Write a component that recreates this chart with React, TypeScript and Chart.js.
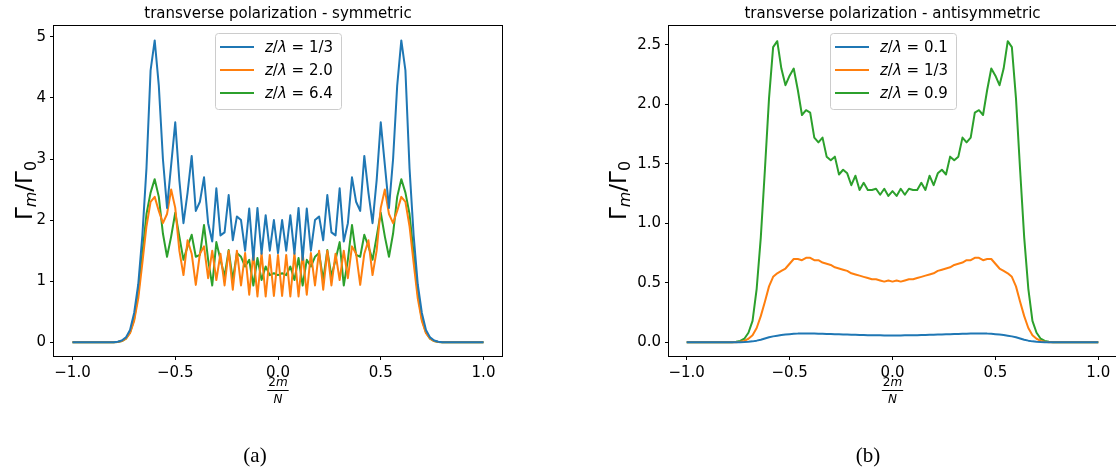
import React, { useEffect, useRef } from 'react';
import { Chart, registerables } from 'chart.js';

Chart.register(...registerables);

// ---------- data ----------
const N = 100;
// abscissa 2m/N for m = -N/2 .. N/2
const xValues: number[] = Array.from({ length: N + 1 }, (_, k) => (2 * (k - N / 2)) / N);

const xTickValues = [-1, -0.5, 0, 0.5, 1];
const xTickLabels = ['\u22121.0', '\u22120.5', '0.0', '0.5', '1.0'];

const symYTickValues = [0, 1, 2, 3, 4, 5];
const symYTickLabels = ['0', '1', '2', '3', '4', '5'];
const antiYTickValues = [0, 0.5, 1, 1.5, 2, 2.5];
const antiYTickLabels = ['0.0', '0.5', '1.0', '1.5', '2.0', '2.5'];

const symTitle = 'transverse polarization - symmetric';
const antiTitle = 'transverse polarization - antisymmetric';

const symLegend = ['1/3', '2.0', '6.4'];
const antiLegend = ['0.1', '1/3', '0.9'];

// symmetric, z/λ = 1/3
const symBlue = [
  0, 0, 0, 0, 0, 0, 0, 0, 0, 0, 0,
  0.01, 0.03, 0.08, 0.2, 0.48, 0.95, 1.75, 2.85, 4.45, 4.94,
  4.2, 3.0, 2.2, 2.9, 3.6, 2.65, 1.95, 2.45, 3.05, 2.15,
  2.3, 2.7, 1.95, 1.65, 2.52, 1.75, 1.8, 2.41, 1.67, 2.06,
  2.0, 1.5, 2.19, 1.35, 2.2, 1.45, 2.08, 1.5, 2.0, 1.46,
  2.0, 1.5, 2.08, 1.45, 2.2, 1.35, 2.19, 1.5, 2.0, 2.06,
  1.67, 2.41, 1.8, 1.75, 2.52, 1.65, 1.95, 2.7, 2.3, 2.15,
  3.05, 2.45, 1.95, 2.65, 3.6, 2.9, 2.2, 3.0, 4.2, 4.94,
  4.45, 2.85, 1.75, 0.95, 0.48, 0.2, 0.08, 0.03, 0.01, 0,
  0, 0, 0, 0, 0, 0, 0, 0, 0, 0,
];
// symmetric, z/λ = 2.0
const symOrange = [
  0, 0, 0, 0, 0, 0, 0, 0, 0, 0, 0,
  0.005, 0.02, 0.06, 0.15, 0.35, 0.72, 1.3, 1.9, 2.3, 2.38,
  2.15, 1.95, 2.1, 2.5, 2.2, 1.5, 1.1, 1.67, 1.45, 0.94,
  1.45, 1.57, 1.05, 1.5, 1.02, 1.45, 0.93, 1.5, 0.86, 1.5,
  0.93, 1.46, 0.78, 1.46, 0.75, 1.46, 0.75, 1.43, 0.76, 1.43,
  0.76, 1.43, 0.75, 1.46, 0.75, 1.46, 0.78, 1.46, 0.93, 1.5,
  0.86, 1.5, 0.93, 1.45, 1.02, 1.5, 1.05, 1.57, 1.45, 0.94,
  1.45, 1.67, 1.1, 1.5, 2.2, 2.5, 2.1, 1.95, 2.15, 2.38,
  2.3, 1.9, 1.3, 0.72, 0.35, 0.15, 0.06, 0.02, 0.005, 0,
  0, 0, 0, 0, 0, 0, 0, 0, 0, 0,
];
// symmetric, z/λ = 6.4
const symGreen = [
  0, 0, 0, 0, 0, 0, 0, 0, 0, 0, 0,
  0.005, 0.02, 0.06, 0.16, 0.38, 0.8, 1.45, 2.1, 2.45, 2.67,
  2.38, 1.78, 1.4, 1.73, 2.12, 1.73, 1.35, 1.57, 1.76, 1.4,
  1.43, 1.92, 1.35, 0.93, 1.64, 1.35, 1.08, 1.51, 1.02, 1.46,
  1.4, 1.24, 1.35, 0.93, 1.38, 1.02, 1.24, 1.1, 1.13, 1.1,
  1.13, 1.1, 1.24, 1.02, 1.38, 0.93, 1.35, 1.24, 1.4, 1.46,
  1.02, 1.51, 1.08, 1.35, 1.64, 0.93, 1.35, 1.92, 1.43, 1.4,
  1.76, 1.57, 1.35, 1.73, 2.12, 1.73, 1.4, 1.78, 2.38, 2.67,
  2.45, 2.1, 1.45, 0.8, 0.38, 0.16, 0.06, 0.02, 0.005, 0,
  0, 0, 0, 0, 0, 0, 0, 0, 0, 0,
];

// antisymmetric, z/λ = 0.1
const antiBlue = [
  0, 0, 0, 0, 0, 0, 0, 0, 0, 0, 0, 0, 0,
  0.001, 0.002, 0.004, 0.008, 0.014, 0.022, 0.032, 0.042,
  0.05, 0.056, 0.061, 0.065, 0.068, 0.071, 0.073, 0.074, 0.074, 0.074,
  0.073, 0.072, 0.071, 0.07, 0.069, 0.068, 0.067, 0.066, 0.065, 0.064,
  0.063, 0.062, 0.061, 0.06, 0.06, 0.059, 0.059, 0.058, 0.058, 0.058,
  0.058, 0.058, 0.059, 0.059, 0.06, 0.06, 0.061, 0.062, 0.063, 0.064,
  0.065, 0.066, 0.067, 0.068, 0.069, 0.07, 0.071, 0.072, 0.073, 0.074,
  0.074, 0.074, 0.073, 0.071, 0.068, 0.065, 0.061, 0.056, 0.05, 0.042,
  0.032, 0.022, 0.014, 0.008, 0.004, 0.002, 0.001,
  0, 0, 0, 0, 0, 0, 0, 0, 0, 0, 0, 0, 0,
];
// antisymmetric, z/λ = 1/3
const antiOrange = [
  0, 0, 0, 0, 0, 0, 0, 0, 0, 0, 0, 0, 0,
  0.004, 0.012, 0.03, 0.06, 0.12, 0.22, 0.34, 0.47,
  0.55, 0.58, 0.6, 0.62, 0.66, 0.7, 0.7, 0.69, 0.71, 0.71,
  0.69, 0.69, 0.67, 0.66, 0.65, 0.63, 0.62, 0.61, 0.6, 0.58,
  0.57, 0.56, 0.55, 0.54, 0.53, 0.53, 0.52, 0.51, 0.52, 0.51,
  0.52, 0.51, 0.52, 0.53, 0.53, 0.54, 0.55, 0.56, 0.57, 0.58,
  0.6, 0.61, 0.62, 0.63, 0.65, 0.66, 0.67, 0.69, 0.69, 0.71,
  0.71, 0.69, 0.7, 0.7, 0.66, 0.62, 0.6, 0.58, 0.55, 0.47,
  0.34, 0.22, 0.12, 0.06, 0.03, 0.012, 0.004,
  0, 0, 0, 0, 0, 0, 0, 0, 0, 0, 0, 0, 0,
];
// antisymmetric, z/λ = 0.9
const antiGreen = [
  0, 0, 0, 0, 0, 0, 0, 0, 0, 0, 0, 0,
  0.005, 0.012, 0.03, 0.08, 0.18, 0.45, 0.88, 1.45, 2.05,
  2.48, 2.53, 2.3, 2.16, 2.24, 2.3, 2.12, 1.91, 1.95, 1.93,
  1.72, 1.68, 1.72, 1.56, 1.53, 1.56, 1.41, 1.45, 1.42, 1.32,
  1.4, 1.28, 1.34, 1.28, 1.28, 1.29, 1.24, 1.29, 1.23, 1.27,
  1.23, 1.29, 1.24, 1.29, 1.28, 1.28, 1.34, 1.28, 1.4, 1.32,
  1.42, 1.45, 1.41, 1.56, 1.53, 1.56, 1.72, 1.68, 1.72, 1.93,
  1.95, 1.91, 2.12, 2.3, 2.24, 2.16, 2.3, 2.53, 2.48, 2.05,
  1.45, 0.88, 0.45, 0.18, 0.08, 0.03, 0.012, 0.005,
  0, 0, 0, 0, 0, 0, 0, 0, 0, 0, 0, 0,
];

const COLORS = ['#1f77b4', '#ff7f0e', '#2ca02c'];
const FONT = '"DejaVu Sans"';

type Seg = { t: string; font: string; dy?: number };

function segsWidth(ctx: CanvasRenderingContext2D, segs: Seg[]) {
  let w = 0;
  for (const s of segs) {
    ctx.font = s.font;
    w += ctx.measureText(s.t).width;
  }
  return w;
}
function drawSegs(ctx: CanvasRenderingContext2D, segs: Seg[], x: number, y: number) {
  let cx = x;
  for (const s of segs) {
    ctx.font = s.font;
    ctx.fillText(s.t, cx, y + (s.dy || 0));
    cx += ctx.measureText(s.t).width;
  }
}

type Panel = {
  series: number[][];
  legend: string[];
  title: string;
  caption: string;
  captionX: number;
  yTicks: number[];
  yTickLabels: string[];
  xMin: number;
  xMax: number;
  yMin: number;
  yMax: number;
  yWidth: number;
  padRight: number;
  yLabelOffset: number;
};

function makeDecor(p: Panel) {
  return {
    id: 'decor',
    afterDraw(chart: any) {
      const ctx: CanvasRenderingContext2D = chart.ctx;
      const a = chart.chartArea;
      const cx = (a.left + a.right) / 2;
      ctx.save();
      // frame
      ctx.strokeStyle = '#000';
      ctx.lineWidth = 1;
      ctx.strokeRect(Math.round(a.left) - 0.5, Math.round(a.top) + 0.5, Math.round(a.right - a.left) + 1, Math.round(a.bottom - a.top));
      // title
      ctx.fillStyle = '#000';
      ctx.textAlign = 'center';
      ctx.textBaseline = 'alphabetic';
      ctx.font = `15px ${FONT}`;
      ctx.fillText(p.title, cx, 18);
      // y label
      const F = 23;
      const ysegs: Seg[] = [
        { t: '\u0393', font: `${F}px ${FONT}` },
        { t: 'm', font: `italic ${Math.round(F * 0.7)}px ${FONT}`, dy: F * 0.16 },
        { t: '/', font: `${F}px ${FONT}` },
        { t: '\u0393', font: `${F}px ${FONT}` },
        { t: '0', font: `${Math.round(F * 0.7)}px ${FONT}`, dy: F * 0.16 },
      ];
      ctx.save();
      ctx.translate(a.left - p.yLabelOffset, (a.top + a.bottom) / 2);
      ctx.rotate(-Math.PI / 2);
      ctx.textAlign = 'left';
      const yw = segsWidth(ctx, ysegs);
      drawSegs(ctx, ysegs, -yw / 2, F * 0.36);
      ctx.restore();
      // x label: fraction 2m / N
      ctx.textAlign = 'left';
      const num: Seg[] = [
        { t: '2', font: `12px ${FONT}` },
        { t: 'm', font: `italic 12px ${FONT}` },
      ];
      const nw = segsWidth(ctx, num);
      drawSegs(ctx, num, cx - nw / 2, 386);
      ctx.beginPath();
      ctx.moveTo(cx - nw / 2 - 1, 390.5);
      ctx.lineTo(cx + nw / 2 + 1, 390.5);
      ctx.stroke();
      ctx.font = `italic 12px ${FONT}`;
      ctx.textAlign = 'center';
      ctx.fillText('N', cx, 403);
      // caption
      ctx.font = '21px "Liberation Serif"';
      ctx.textAlign = 'center';
      ctx.fillText(p.caption, p.captionX, 462);
      // legend
      const bl = a.left + 161;
      const bt = 33;
      const bw = 126;
      const bh = 76;
      ctx.beginPath();
      (ctx as any).roundRect(bl + 0.5, bt + 0.5, bw, bh, 3);
      ctx.fillStyle = 'rgba(255,255,255,0.8)';
      ctx.fill();
      ctx.strokeStyle = '#cccccc';
      ctx.lineWidth = 1;
      ctx.stroke();
      chart.data.datasets.forEach((ds: any, k: number) => {
        const y = bt + 14 + 23 * k;
        ctx.strokeStyle = ds.borderColor;
        ctx.lineWidth = 2;
        ctx.beginPath();
        ctx.moveTo(bl + 5, y);
        ctx.lineTo(bl + 39, y);
        ctx.stroke();
        const parts = String(ds.label).split(' = ');
        const segs: Seg[] = [
          { t: 'z', font: `italic 15px ${FONT}` },
          { t: '/', font: `15px ${FONT}` },
          { t: '\u03bb', font: `italic 15px ${FONT}` },
          { t: ' = ' + parts[1], font: `15px ${FONT}` },
        ];
        ctx.fillStyle = '#000';
        ctx.textAlign = 'left';
        drawSegs(ctx, segs, bl + 50, y + 5);
      });
      ctx.restore();
    },
  };
}

function buildConfig(p: Panel): any {
  const tickFont = { family: 'DejaVu Sans', size: 15 };
  const grid = {
    display: true,
    drawOnChartArea: false,
    drawTicks: true,
    tickLength: 4,
    tickWidth: 1,
    tickColor: '#000',
  };
  return {
    type: 'line',
    data: {
      datasets: p.series.map((s, k) => ({
        label: 'z/\u03bb = ' + p.legend[k],
        data: s.map((v, i) => ({ x: xValues[i], y: v })),
        borderColor: COLORS[k],
        backgroundColor: COLORS[k],
        borderWidth: 2,
        pointRadius: 0,
        tension: 0,
        fill: false,
        borderJoinStyle: 'round',
      })),
    },
    options: {
      responsive: false,
      animation: false,
      devicePixelRatio: 1,
      events: [],
      layout: { padding: { left: 0, top: 25, right: p.padRight, bottom: 87 } },
      plugins: { legend: { display: false }, tooltip: { enabled: false }, title: { display: false } },
      scales: {
        x: {
          type: 'linear',
          min: p.xMin,
          max: p.xMax,
          afterBuildTicks: (s: any) => {
            s.ticks = xTickValues.map((v) => ({ value: v }));
          },
          afterFit: (s: any) => {
            s.height = 30;
          },
          ticks: {
            autoSkip: false,
            maxRotation: 0,
            padding: 4,
            color: '#000',
            font: tickFont,
            callback: (v: number) => xTickLabels[xTickValues.indexOf(v)],
          },
          grid,
          border: { display: false },
        },
        y: {
          type: 'linear',
          min: p.yMin,
          max: p.yMax,
          afterBuildTicks: (s: any) => {
            s.ticks = p.yTicks.map((v) => ({ value: v }));
          },
          afterFit: (s: any) => {
            s.width = p.yWidth;
          },
          ticks: {
            autoSkip: false,
            padding: 4,
            color: '#000',
            font: tickFont,
            callback: (v: number) => p.yTickLabels[p.yTicks.indexOf(v)],
          },
          grid,
          border: { display: false },
        },
      },
    },
    plugins: [makeDecor(p)],
  };
}

const panelA: Panel = {
  series: [symBlue, symOrange, symGreen],
  legend: symLegend,
  title: symTitle,
  caption: '(a)',
  captionX: 255,
  yTicks: symYTickValues,
  yTickLabels: symYTickLabels,
  xMin: -1.09,
  xMax: 1.09,
  yMin: -0.224,
  yMax: 5.193,
  yWidth: 54,
  padRight: 58,
  yLabelOffset: 30,
};

const panelB: Panel = {
  series: [antiBlue, antiOrange, antiGreen],
  legend: antiLegend,
  title: antiTitle,
  caption: '(b)',
  captionX: 308,
  yTicks: antiYTickValues,
  yTickLabels: antiYTickLabels,
  xMin: -1.086,
  xMax: 1.086,
  yMin: -0.115,
  yMax: 2.666,
  yWidth: 109,
  padRight: 4,
  yLabelOffset: 51,
};

export default function App() {
  const refA = useRef<HTMLCanvasElement>(null);
  const refB = useRef<HTMLCanvasElement>(null);
  useEffect(() => {
    const ca = new Chart(refA.current as HTMLCanvasElement, buildConfig(panelA));
    const cb = new Chart(refB.current as HTMLCanvasElement, buildConfig(panelB));
    return () => {
      ca.destroy();
      cb.destroy();
    };
  }, []);
  return (
    <div style={{ position: 'fixed', left: 0, top: 0, width: 1116, height: 473, overflow: 'hidden', background: '#fff' }}>
      <canvas ref={refA} width={560} height={473} style={{ position: 'absolute', left: 0, top: 0, width: 560, height: 473 }} />
      <canvas ref={refB} width={560} height={473} style={{ position: 'absolute', left: 560, top: 0, width: 560, height: 473 }} />
    </div>
  );
}
